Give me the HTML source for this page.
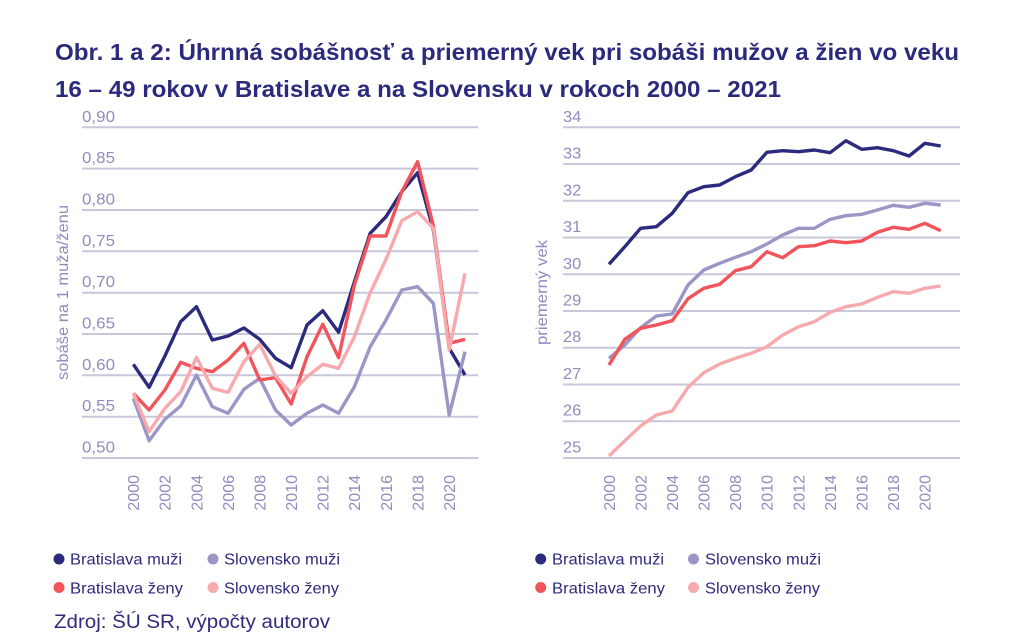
<!DOCTYPE html>
<html>
<head>
<meta charset="utf-8">
<style>
  html,body{margin:0;padding:0;background:#ffffff;}
  svg{display:block;}
  text{font-family:"Liberation Sans", Arial, sans-serif;}
</style>
</head>
<body>
<svg width="1024" height="636" viewBox="0 0 1024 636" xmlns="http://www.w3.org/2000/svg">
  <rect width="1024" height="636" fill="#ffffff"/>

  <!-- Title -->
  <text x="55" y="60" font-size="23" font-weight="bold" fill="#2b2a7c" textLength="904" lengthAdjust="spacingAndGlyphs">Obr. 1 a 2: Úhrnná sobášnosť a priemerný vek pri sobáši mužov a žien vo veku</text>
  <text x="55" y="97" font-size="23" font-weight="bold" fill="#2b2a7c" textLength="726" lengthAdjust="spacingAndGlyphs">16 – 49 rokov v Bratislave a na Slovensku v rokoch 2000 – 2021</text>

  <!-- LEFT CHART -->
  <g stroke="#c9c7da" stroke-width="2">
    <line x1="82" y1="127.3" x2="478.3" y2="127.3"/>
    <line x1="82" y1="168.6" x2="478.3" y2="168.6"/>
    <line x1="82" y1="210.0" x2="478.3" y2="210.0"/>
    <line x1="82" y1="251.3" x2="478.3" y2="251.3"/>
    <line x1="82" y1="292.7" x2="478.3" y2="292.7"/>
    <line x1="82" y1="334.0" x2="478.3" y2="334.0"/>
    <line x1="82" y1="375.3" x2="478.3" y2="375.3"/>
    <line x1="82" y1="416.7" x2="478.3" y2="416.7"/>
    <line x1="82" y1="458.0" x2="478.3" y2="458.0"/>
  </g>
  <g font-size="16" fill="#8f8cbf">
    <text x="82" y="121.8" textLength="33" lengthAdjust="spacingAndGlyphs">0,90</text>
    <text x="82" y="163.1" textLength="33" lengthAdjust="spacingAndGlyphs">0,85</text>
    <text x="82" y="204.5" textLength="33" lengthAdjust="spacingAndGlyphs">0,80</text>
    <text x="82" y="245.8" textLength="33" lengthAdjust="spacingAndGlyphs">0,75</text>
    <text x="82" y="287.2" textLength="33" lengthAdjust="spacingAndGlyphs">0,70</text>
    <text x="82" y="328.5" textLength="33" lengthAdjust="spacingAndGlyphs">0,65</text>
    <text x="82" y="369.8" textLength="33" lengthAdjust="spacingAndGlyphs">0,60</text>
    <text x="82" y="411.2" textLength="33" lengthAdjust="spacingAndGlyphs">0,55</text>
    <text x="82" y="452.5" textLength="33" lengthAdjust="spacingAndGlyphs">0,50</text>
  </g>
  <text transform="translate(68,292.5) rotate(-90)" text-anchor="middle" font-size="16" fill="#8f8cbf" textLength="175" lengthAdjust="spacingAndGlyphs">sobáše na 1 muža/ženu</text>
  <g font-size="16" fill="#8f8cbf" text-anchor="end">
    <text transform="translate(139.1,475) rotate(-90)">2000</text>
    <text transform="translate(170.7,475) rotate(-90)">2002</text>
    <text transform="translate(202.3,475) rotate(-90)">2004</text>
    <text transform="translate(233.9,475) rotate(-90)">2006</text>
    <text transform="translate(265.5,475) rotate(-90)">2008</text>
    <text transform="translate(297.0,475) rotate(-90)">2010</text>
    <text transform="translate(328.6,475) rotate(-90)">2012</text>
    <text transform="translate(360.2,475) rotate(-90)">2014</text>
    <text transform="translate(391.8,475) rotate(-90)">2016</text>
    <text transform="translate(423.4,475) rotate(-90)">2018</text>
    <text transform="translate(455.0,475) rotate(-90)">2020</text>
  </g>
  <g fill="none" stroke-width="3.4" stroke-linejoin="round" stroke-linecap="butt">
    <polyline stroke="#2b2a7c" points="133.3,364.3 149.1,387.3 164.9,356 180.7,321.7 196.5,306.7 212.3,340 228.1,336 243.9,328 259.7,339.3 275.5,358.3 291.2,367.7 307.0,325 322.8,310.7 338.6,332.3 354.4,281.7 370.2,233.3 386.0,216.7 401.8,191.7 417.6,172.7 433.4,230 449.2,348.3 465.0,375"/>
    <polyline stroke="#9a97c6" points="133.3,398.3 149.1,440.7 164.9,419.3 180.7,406 196.5,375 212.3,406.7 228.1,413.3 243.9,389.3 259.7,378.3 275.5,410 291.2,425 307.0,413.3 322.8,405 338.6,413.3 354.4,386.7 370.2,346.7 386.0,320 401.8,290 417.6,286.7 433.4,303.3 449.2,415 465.0,351.7"/>
    <polyline stroke="#f2545c" points="133.3,393.3 149.1,410 164.9,390 180.7,362.3 196.5,368.3 212.3,371.7 228.1,360 243.9,343.3 259.7,380 275.5,377.7 291.2,404 307.0,356.7 322.8,324.3 338.6,357.7 354.4,285 370.2,236 386.0,236 401.8,191.7 417.6,161.7 433.4,226 449.2,343.3 465.0,339.3"/>
    <polyline stroke="#f7aaae" points="133.3,393.3 149.1,431.7 164.9,408.3 180.7,391.7 196.5,357.3 212.3,388.3 228.1,392.3 243.9,361.7 259.7,344.3 275.5,376 291.2,393.3 307.0,376.7 322.8,364.3 338.6,368.3 354.4,336.7 370.2,292.7 386.0,259.3 401.8,220.7 417.6,211.7 433.4,228.3 449.2,350 465.0,273.3"/>
  </g>

  <!-- RIGHT CHART -->
  <g stroke="#c9c7da" stroke-width="2">
    <line x1="563" y1="127.3" x2="960" y2="127.3"/>
    <line x1="563" y1="164.0" x2="960" y2="164.0"/>
    <line x1="563" y1="200.8" x2="960" y2="200.8"/>
    <line x1="563" y1="237.5" x2="960" y2="237.5"/>
    <line x1="563" y1="274.3" x2="960" y2="274.3"/>
    <line x1="563" y1="311.0" x2="960" y2="311.0"/>
    <line x1="563" y1="347.7" x2="960" y2="347.7"/>
    <line x1="563" y1="384.5" x2="960" y2="384.5"/>
    <line x1="563" y1="421.2" x2="960" y2="421.2"/>
    <line x1="563" y1="458.0" x2="960" y2="458.0"/>
  </g>
  <g font-size="16" fill="#8f8cbf">
    <text x="563" y="121.8" textLength="18.3" lengthAdjust="spacingAndGlyphs">34</text>
    <text x="563" y="158.5" textLength="18.3" lengthAdjust="spacingAndGlyphs">33</text>
    <text x="563" y="195.3" textLength="18.3" lengthAdjust="spacingAndGlyphs">32</text>
    <text x="563" y="232.0" textLength="18.3" lengthAdjust="spacingAndGlyphs">31</text>
    <text x="563" y="268.8" textLength="18.3" lengthAdjust="spacingAndGlyphs">30</text>
    <text x="563" y="305.5" textLength="18.3" lengthAdjust="spacingAndGlyphs">29</text>
    <text x="563" y="342.2" textLength="18.3" lengthAdjust="spacingAndGlyphs">28</text>
    <text x="563" y="379.0" textLength="18.3" lengthAdjust="spacingAndGlyphs">27</text>
    <text x="563" y="415.7" textLength="18.3" lengthAdjust="spacingAndGlyphs">26</text>
    <text x="563" y="452.5" textLength="18.3" lengthAdjust="spacingAndGlyphs">25</text>
  </g>
  <text transform="translate(547,292.5) rotate(-90)" text-anchor="middle" font-size="16" fill="#8f8cbf" textLength="105" lengthAdjust="spacingAndGlyphs">priemerný vek</text>
  <g font-size="16" fill="#8f8cbf" text-anchor="end">
    <text transform="translate(614.8,475) rotate(-90)">2000</text>
    <text transform="translate(646.4,475) rotate(-90)">2002</text>
    <text transform="translate(678.0,475) rotate(-90)">2004</text>
    <text transform="translate(709.6,475) rotate(-90)">2006</text>
    <text transform="translate(741.2,475) rotate(-90)">2008</text>
    <text transform="translate(772.7,475) rotate(-90)">2010</text>
    <text transform="translate(804.3,475) rotate(-90)">2012</text>
    <text transform="translate(835.9,475) rotate(-90)">2014</text>
    <text transform="translate(867.5,475) rotate(-90)">2016</text>
    <text transform="translate(899.1,475) rotate(-90)">2018</text>
    <text transform="translate(930.7,475) rotate(-90)">2020</text>
  </g>
  <g fill="none" stroke-width="3.4" stroke-linejoin="round" stroke-linecap="butt">
    <polyline stroke="#2b2a7c" points="609.0,264.3 624.8,246.7 640.6,228.3 656.4,226.7 672.2,213.3 688.0,192.7 703.8,186.7 719.6,185 735.4,176.7 751.2,170 766.9,152.3 782.7,150.7 798.5,151.7 814.3,150 830.1,152.7 845.9,140.7 861.7,149.3 877.5,147.7 893.3,150.7 909.1,156 924.9,143.3 940.7,146"/>
    <polyline stroke="#9a97c6" points="609.0,358.3 624.8,345 640.6,327.7 656.4,316 672.2,314 688.0,285 703.8,270 719.6,263.3 735.4,257.3 751.2,251.7 766.9,244 782.7,235 798.5,228.3 814.3,228.3 830.1,219.3 845.9,215.7 861.7,214.3 877.5,210 893.3,205.3 909.1,207.3 924.9,203.3 940.7,205"/>
    <polyline stroke="#f2545c" points="609.0,365 624.8,339.3 640.6,328.3 656.4,325 672.2,320.7 688.0,298.7 703.8,288.3 719.6,284.3 735.4,270.7 751.2,266.7 766.9,251.7 782.7,257.7 798.5,246.7 814.3,245.7 830.1,241 845.9,242.7 861.7,241 877.5,232.3 893.3,227.3 909.1,229.3 924.9,223.3 940.7,230.7"/>
    <polyline stroke="#f7aaae" points="609.0,456 624.8,440.7 640.6,426 656.4,415 672.2,411 688.0,387.3 703.8,372.7 719.6,364 735.4,358.3 751.2,353.3 766.9,346.7 782.7,335 798.5,326.7 814.3,321.7 830.1,312.3 845.9,306.7 861.7,304 877.5,297.3 893.3,291.7 909.1,293.3 924.9,288.3 940.7,286"/>
  </g>

  <!-- LEFT LEGEND -->
  <circle cx="59" cy="559" r="5.5" fill="#2b2a7c"/>
  <circle cx="213" cy="559" r="5.5" fill="#9a97c6"/>
  <circle cx="59" cy="587.5" r="5.5" fill="#f2545c"/>
  <circle cx="213" cy="587.5" r="5.5" fill="#f7aaae"/>
  <g font-size="16" fill="#2e2b7d">
    <text x="70" y="564.5" textLength="112" lengthAdjust="spacingAndGlyphs">Bratislava muži</text>
    <text x="224" y="564.5" textLength="116" lengthAdjust="spacingAndGlyphs">Slovensko muži</text>
    <text x="70" y="593.3" textLength="113" lengthAdjust="spacingAndGlyphs">Bratislava ženy</text>
    <text x="224" y="593.3" textLength="115" lengthAdjust="spacingAndGlyphs">Slovensko ženy</text>
  </g>

  <!-- RIGHT LEGEND -->
  <circle cx="540.7" cy="559" r="5.5" fill="#2b2a7c"/>
  <circle cx="693.5" cy="559" r="5.5" fill="#9a97c6"/>
  <circle cx="540.7" cy="587.5" r="5.5" fill="#f2545c"/>
  <circle cx="693.5" cy="587.5" r="5.5" fill="#f7aaae"/>
  <g font-size="16" fill="#2e2b7d">
    <text x="552" y="564.5" textLength="112" lengthAdjust="spacingAndGlyphs">Bratislava muži</text>
    <text x="705" y="564.5" textLength="116" lengthAdjust="spacingAndGlyphs">Slovensko muži</text>
    <text x="552" y="593.3" textLength="113" lengthAdjust="spacingAndGlyphs">Bratislava ženy</text>
    <text x="705" y="593.3" textLength="115" lengthAdjust="spacingAndGlyphs">Slovensko ženy</text>
  </g>

  <!-- Source -->
  <text x="54" y="628" font-size="19" fill="#2e2b7d" textLength="276" lengthAdjust="spacingAndGlyphs">Zdroj: ŠÚ SR, výpočty autorov</text>
</svg>
</body>
</html>
